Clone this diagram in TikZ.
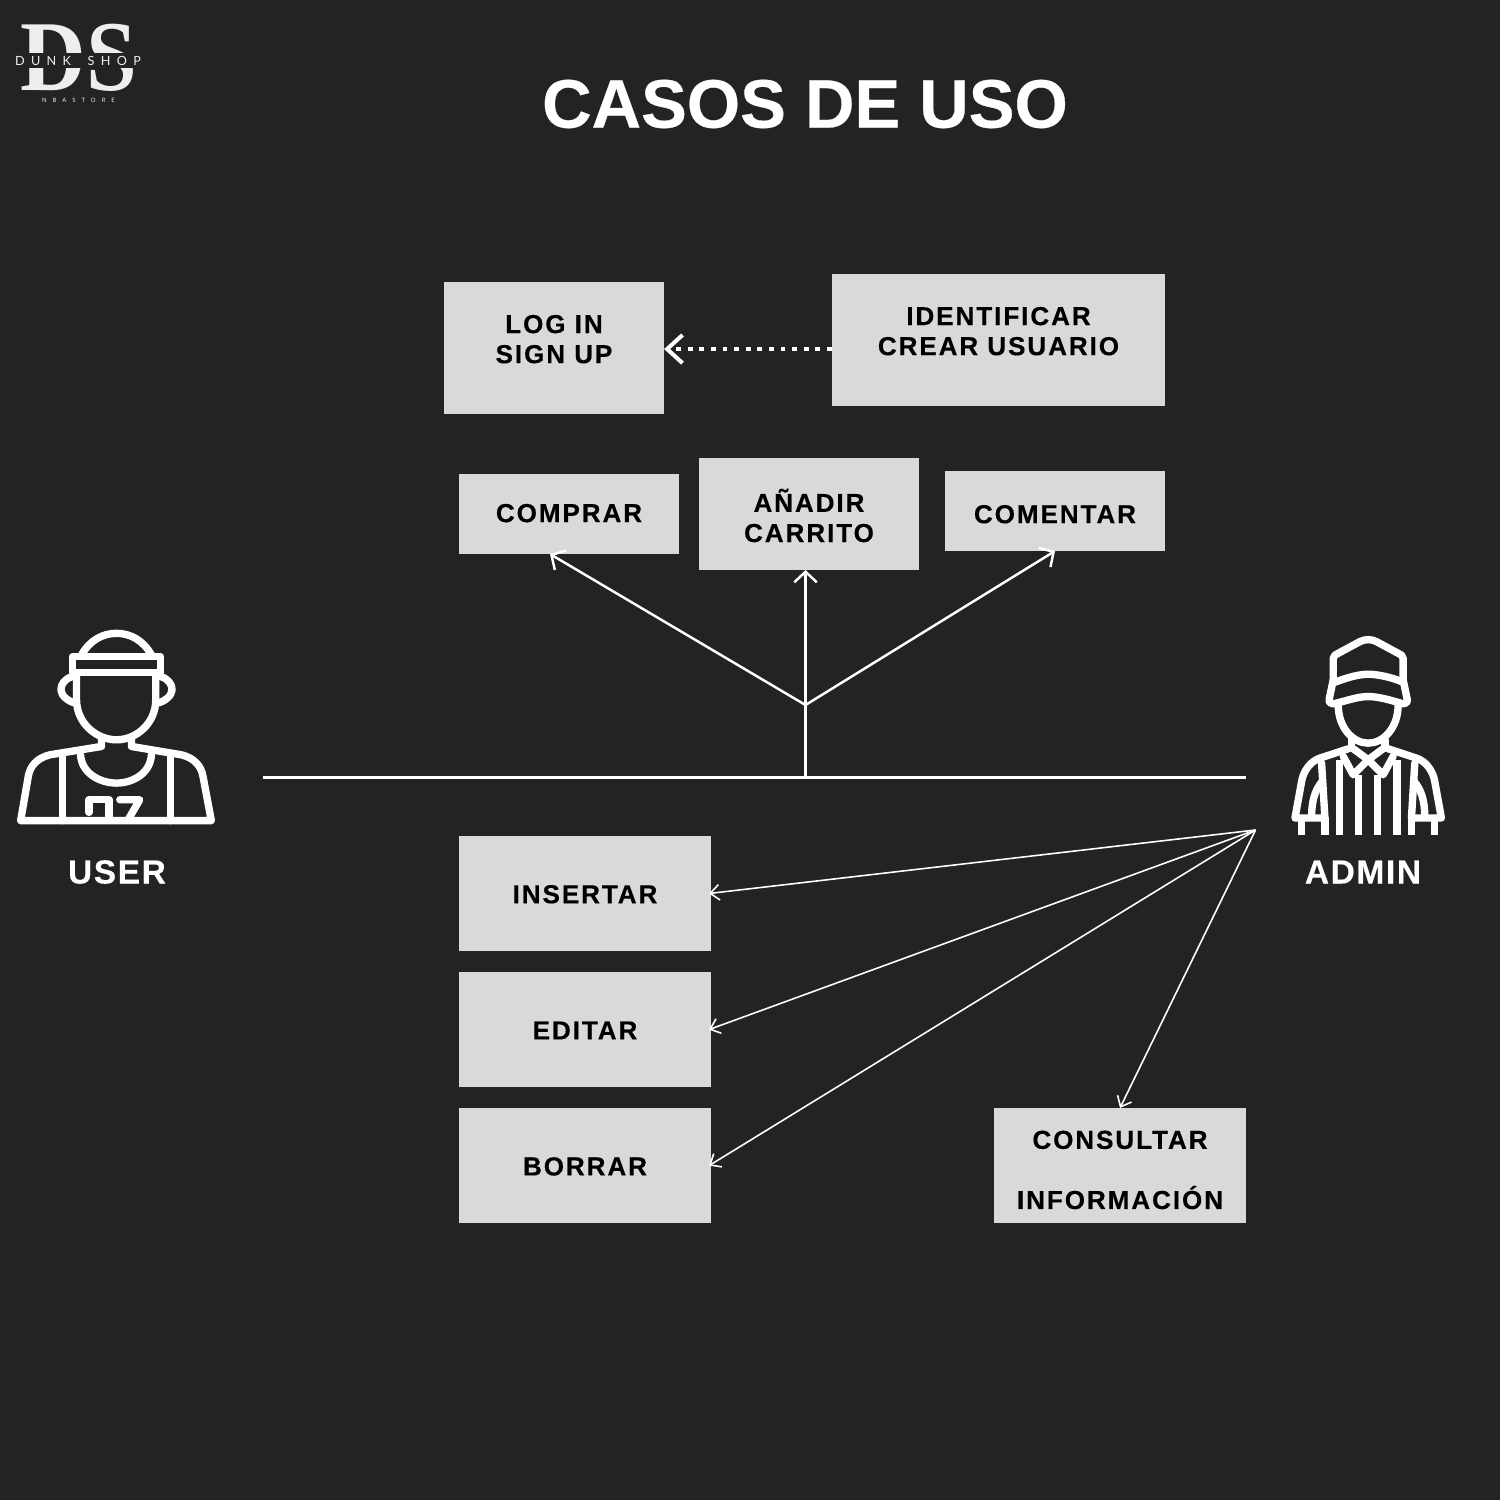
\documentclass[tikz,border=0pt]{standalone}
\usepackage{fontspec}
\usetikzlibrary{positioning, arrows.meta}
\setmainfont[UprightFont=* Bold, FakeBold=0.4]{Liberation Sans}
\newfontfamily\boxfont[UprightFont=* Bold, FakeBold=0.4, LetterSpace=7.5]{Liberation Sans}
\newfontfamily\actorfont[UprightFont=* Bold, FakeBold=0.3, LetterSpace=5]{Liberation Sans}
\newfontfamily\logofont{Liberation Serif}
\newfontfamily\logoname[LetterSpace=50]{Lato}
\newfontfamily\logosmall[LetterSpace=100]{Lato}
\definecolor{bgdark}{HTML}{242223}
\definecolor{boxgrey}{HTML}{D9D9D9}
\definecolor{logowhite}{HTML}{EEEEEE}
\tikzset{
    box/.style={fill=boxgrey, text=black, align=center, inner sep=0pt, outer sep=0pt, font=\boxfont\fontsize{7.4}{8.55}\selectfont},
    wire/.style={draw=white, line width=0.6pt},
    thinwire/.style={draw=white, line width=0.45pt, -{Straight Barb[length=2.6pt, width=4.4pt]}},
    fan/.style={draw=white, line width=0.7pt, -{Straight Barb[length=3pt, width=6.4pt]}},
    icon/.style={draw=white, line width=2.1pt, line join=round, line cap=round},
    actor/.style={text=white, inner sep=0pt, font=\actorfont\fontsize{9.5}{12}\selectfont},
}
\begin{document}
\begin{tikzpicture}[x=0.01cm, y=-0.01cm]
    \fill[bgdark] (0,0) rectangle (1500,1500);
    \useasboundingbox (0,0) rectangle (1500,1500);

    % logo
    \node[text=logowhite, inner sep=0pt, text height=18.8pt, text depth=0pt, font=\logofont\bfseries\fontsize{28.5}{30}\selectfont, xscale=0.91] (logo) at (78.5,57) {DS};
    \node[fill=bgdark, text=logowhite, inner xsep=0pt, inner ysep=0pt, minimum height=0.155cm, font=\logoname\fontsize{3.6}{5}\selectfont] (logoname) at (78,60.5) {DUNK\hspace{2pt} SHOP};
    \node[text=logowhite, inner sep=0pt, font=\logosmall\fontsize{1.7}{3}\selectfont] (logosub) at (78.5,100) {NBASTORE};

    \node[text=white, inner sep=0pt, font=\fontsize{19.5}{24}\selectfont] (title) at (805,104) {CASOS DE USO};

    % top boxes
    \node[box, minimum width=2.2cm, minimum height=1.32cm, text depth=5.1pt] (login) at (554,348) {LOG IN\\SIGN UP};
    \node[box, minimum width=3.33cm, minimum height=1.32cm, text depth=5.1pt] (identificar) at (998.5,340) {IDENTIFICAR\\CREAR USUARIO};
    \node[box, minimum width=2.2cm, minimum height=0.8cm, text depth=0.57pt] (comprar) at (569,514) {COMPRAR};
    \node[box, minimum width=2.2cm, minimum height=1.12cm, text height=16pt] (carrito) at (809,514) {AÑADIR\\CARRITO};
    \node[box, minimum width=2.2cm, minimum height=0.8cm, text height=7pt] (comentar) at (1055,511) {COMENTAR};

    % bottom boxes
    \node[box, minimum width=2.52cm, minimum height=1.15cm, text height=5.6pt] (insertar) at (585,893.5) {INSERTAR};
    \node[box, minimum width=2.52cm, minimum height=1.15cm, text height=5.6pt, below=0.21cm of insertar] (editar) {EDITAR};
    \node[box, minimum width=2.52cm, minimum height=1.15cm, text height=5.6pt, below=0.21cm of editar] (borrar) {BORRAR};
    \node[box, minimum width=2.52cm, minimum height=1.15cm, text height=24.8pt, font=\boxfont\fontsize{7.4}{17.1}\selectfont] (consultar) at (1120,1165.5) {CONSULTAR\\INFORMACIÓN};

    % actors
    \node[actor] (user) at (117,872) {USER};
    \node[actor] (admin) at (1363,872) {ADMIN};

    \coordinate (linestart) at (263,777.5);
    \coordinate (lineend) at (1246,777.5);
    \coordinate (linemid) at (805.5,777.5);
    \coordinate (fork) at (805.5,705);
    \coordinate (hub) at (1255.5,830);

    % connectors
    \draw[draw=white, line width=1.15pt, dash pattern=on 1.4pt off 1.9pt, -{Straight Barb[length=4.4pt, width=8pt]}] ([yshift=-0.3pt]identificar.west |- login.east) -- ([yshift=-0.3pt]login.east);
    \draw[wire] (linestart) -- (lineend);
    \draw[wire] (linemid) -- (fork);
    \draw[fan] (fork) -- (comprar.south -| 550,0);
    \draw[fan] (fork) -- (fork |- carrito.south);
    \draw[fan] (fork) -- (comentar.south);
    \draw[thinwire] (hub) -- ([xshift=-0.6pt]insertar.east);
    \draw[thinwire] (hub) -- ([xshift=-0.6pt]editar.east);
    \draw[thinwire] (hub) -- ([xshift=-0.6pt]borrar.east);
    \draw[thinwire] (hub) -- (consultar.north);

    % user icon
    \begin{scope}[shift={(0,620)}, x=0.0033333cm, y=-0.0033333cm]
        \draw[icon] (218,110) rectangle (482,158);
        \draw[icon] (245,105) .. controls (270,60) and (310,40) .. (350,40) .. controls (390,40) and (430,60) .. (455,105);
        \draw[icon] (230,158) -- (230,240) .. controls (230,310) and (290,360) .. (350,360) .. controls (410,360) and (468,310) .. (468,240) -- (468,158);
        \draw[icon] (218,170) .. controls (195,175) and (182,195) .. (183,210) .. controls (184,228) and (205,245) .. (228,250);
        \draw[icon] (482,170) .. controls (505,175) and (518,195) .. (517,210) .. controls (516,228) and (495,245) .. (472,250);
        \draw[icon] (305,360) -- (305,380) -- (150,405) .. controls (110,415) and (90,440) .. (85,470) -- (62,603) -- (635,603) -- (610,470) .. controls (605,440) and (585,415) .. (545,405) -- (395,380) -- (395,360);
        \draw[icon] (187,410) -- (187,603);
        \draw[icon] (512,410) -- (512,603);
        \draw[icon] (242,405) .. controls (245,460) and (300,490) .. (350,490) .. controls (400,490) and (452,460) .. (455,405);
        \draw[icon] (268,578) -- (268,540) -- (328,540) -- (328,600);
        \draw[icon] (360,540) -- (420,540) -- (385,600);
    \end{scope}

    % admin icon
    \begin{scope}[shift={(1270,625)}, x=0.0033333cm, y=-0.0033333cm]
        \draw[icon] (190,165) -- (190,100) .. controls (190,92) and (198,88) .. (205,85) -- (270,50) .. controls (285,42) and (305,42) .. (320,50) -- (385,85) .. controls (392,88) and (400,92) .. (400,100) -- (400,165);
        \draw[icon] (195,172) .. controls (240,155) and (270,148) .. (295,148) .. controls (320,148) and (360,155) .. (400,172);
        \draw[icon] (190,165) -- (178,222) .. controls (176,232) and (182,238) .. (190,237) .. controls (240,225) and (265,215) .. (295,215) .. controls (325,215) and (360,225) .. (400,237) .. controls (408,238) and (414,232) .. (412,222) -- (400,165);
        \draw[icon] (205,240) .. controls (205,310) and (250,355) .. (295,355) .. controls (340,355) and (385,310) .. (385,240);
        \draw[icon] (245,345) -- (245,370);
        \draw[icon] (345,345) -- (345,370);
        \draw[icon] (245,368) -- (295,405) -- (345,368);
        \draw[icon] (295,405) -- (250,450) -- (220,395);
        \draw[icon] (295,405) -- (340,450) -- (370,395);
        \draw[icon] (235,372) -- (150,400) .. controls (120,410) and (100,440) .. (95,470) -- (75,580) -- (165,580);
        \draw[icon] (355,372) -- (440,400) .. controls (470,410) and (490,440) .. (495,470) -- (515,580) -- (425,580);
        \draw[icon, line cap=butt] (95,580) -- (95,630);
        \draw[icon, line cap=butt] (495,580) -- (495,630);
        \draw[icon] (155,415) -- (165,580);
        \draw[icon, line cap=butt] (165,580) -- (165,630);
        \draw[icon] (435,415) -- (425,580);
        \draw[icon, line cap=butt] (425,580) -- (425,630);
        \draw[icon] (125,575) .. controls (125,530) and (135,495) .. (157,470);
        \draw[icon] (465,575) .. controls (465,530) and (455,495) .. (433,470);
        \draw[icon, line cap=butt] (208,405) -- (208,630);
        \draw[icon, line cap=butt] (265,450) -- (265,630);
        \draw[icon, line cap=butt] (323,450) -- (323,630);
        \draw[icon, line cap=butt] (382,405) -- (382,630);
    \end{scope}
\end{tikzpicture}
\end{document}
